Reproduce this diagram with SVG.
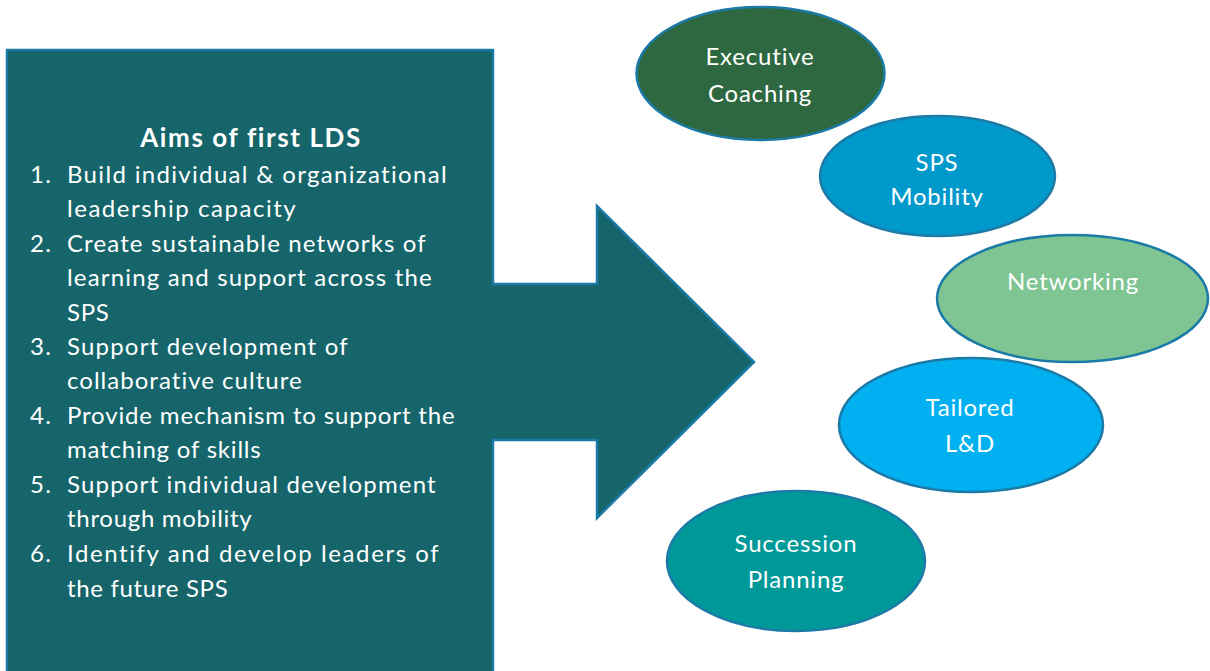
<svg xmlns="http://www.w3.org/2000/svg" width="1210" height="671" viewBox="0 0 1210 671">
  <style>
    .lbl { font-family: Lato, "Open Sans", "DejaVu Sans", sans-serif; fill: #ffffff; }
    .item { font-size: 24px; letter-spacing: 1.3px; }
    .head { font-size: 26px; font-weight: bold; letter-spacing: 1.6px; }
    .oval { stroke: #1b7aa6; stroke-width: 2.5; }
    .node-text { font-size: 24px; letter-spacing: 0.8px; text-anchor: middle; }
  </style>
  <defs>
    <clipPath id="clip-mobility">
      <rect x="820" y="110" width="240" height="97"/>
    </clipPath>
  </defs>

  <!-- Aims panel: box with right-pointing arrow -->
  <g id="aims">
    <path d="M7,50 H493 V284 H597 V206 L754,362 L597,518 V440 H493 V680 H7 Z"
          fill="#15656b" stroke="#1b7aa6" stroke-width="2.5" stroke-linejoin="miter"/>
    <text class="lbl head" x="251" y="147" text-anchor="middle">Aims of first LDS</text>
    <g class="lbl item">
      <text x="30" y="183">1.</text>
      <text x="67" y="183" textLength="381" lengthAdjust="spacing">Build individual &amp; organizational</text>
      <text x="67" y="217" textLength="230" lengthAdjust="spacing">leadership capacity</text>
      <text x="30" y="252">2.</text>
      <text x="67" y="252" textLength="360" lengthAdjust="spacing">Create sustainable networks of</text>
      <text x="67" y="286" textLength="366" lengthAdjust="spacing">learning and support across the</text>
      <text x="67" y="321" textLength="43" lengthAdjust="spacing">SPS</text>
      <text x="30" y="355">3.</text>
      <text x="67" y="355" textLength="282" lengthAdjust="spacing">Support development of</text>
      <text x="67" y="389" textLength="236" lengthAdjust="spacing">collaborative culture</text>
      <text x="30" y="424">4.</text>
      <text x="67" y="424" textLength="389" lengthAdjust="spacing">Provide mechanism to support the</text>
      <text x="67" y="458" textLength="195" lengthAdjust="spacing">matching of skills</text>
      <text x="30" y="493">5.</text>
      <text x="67" y="493" textLength="370" lengthAdjust="spacing">Support individual development</text>
      <text x="67" y="527" textLength="186" lengthAdjust="spacing">through mobility</text>
      <text x="30" y="562">6.</text>
      <text x="67" y="562" textLength="373" lengthAdjust="spacing">Identify and develop leaders of</text>
      <text x="67" y="597" textLength="162" lengthAdjust="spacing">the future SPS</text>
    </g>
  </g>

  <!-- Programme elements -->
  <g id="executive-coaching">
    <ellipse class="oval" cx="760.5" cy="73.5" rx="124" ry="66.5" fill="#2e6840"/>
    <text class="lbl node-text" x="760" y="65">Executive</text>
    <text class="lbl node-text" x="760" y="102">Coaching</text>
  </g>

  <g id="sps-mobility">
    <ellipse class="oval" cx="937.5" cy="176" rx="117.5" ry="60" fill="#0099cb"/>
    <text class="lbl node-text" x="937" y="171">SPS</text>
    <text class="lbl node-text" x="937" y="205" clip-path="url(#clip-mobility)">Mobility</text>
  </g>

  <g id="networking">
    <ellipse class="oval" cx="1072.5" cy="298.5" rx="135.5" ry="63.5" fill="#7fc493"/>
    <text class="lbl node-text" x="1073" y="290">Networking</text>
  </g>

  <g id="tailored-ld">
    <ellipse class="oval" cx="971" cy="425" rx="132" ry="67" fill="#00b0f0"/>
    <text class="lbl node-text" x="970" y="416">Tailored</text>
    <text class="lbl node-text" x="970" y="452">L&amp;D</text>
  </g>

  <g id="succession-planning">
    <ellipse class="oval" cx="796" cy="561" rx="129" ry="70" fill="#009999"/>
    <text class="lbl node-text" x="796" y="552">Succession</text>
    <text class="lbl node-text" x="796" y="588">Planning</text>
  </g>

  <g id="connectors"/>
</svg>
